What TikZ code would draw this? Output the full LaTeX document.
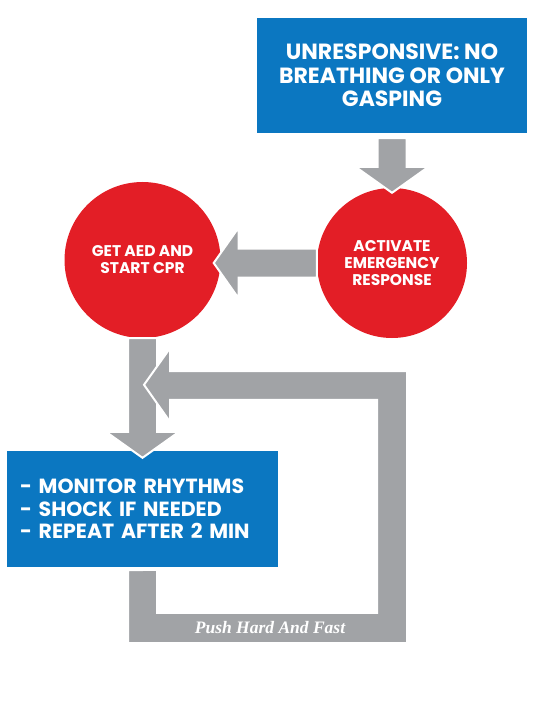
\documentclass[tikz,border=0pt]{standalone}
\usepackage{fontspec}
\setmainfont{Poppins}
\newfontfamily\mottofont{Liberation Serif}
\usetikzlibrary{calc}
\definecolor{cprblue}{RGB}{11,119,193}
\definecolor{cprred}{RGB}{227,30,38}
\definecolor{cprgray}{RGB}{161,163,166}
\tikzset{
  bluebox/.style={rectangle, fill=cprblue, text=white, inner sep=0pt, font=\bfseries\fontsize{20.5}{22.5}\selectfont},
  redcirc/.style={circle, fill=cprred, text=white, align=center, inner sep=0pt, font=\bfseries\fontsize{15.5}{17}\selectfont},
  fatarrow/.style={fill=cprgray, draw=white, line width=2pt, line join=miter}
}

\begin{document}
\begin{tikzpicture}[x=1pt, y=-1pt]
        \useasboundingbox (0,0) rectangle (550,711);
        % boxes and circles
        \node[bluebox, align=center, minimum width=270pt, minimum height=115pt, font=\bfseries\fontsize{22}{23.5}\selectfont] (unresp) at (392,75.5) {UNRESPONSIVE: NO\\BREATHING OR ONLY\\GASPING};
        \node[redcirc, minimum size=150pt] (activate) at (392,263) {ACTIVATE\\EMERGENCY\\RESPONSE};
        \node[bluebox, align=left, inner xsep=13pt, text width=245pt, minimum height=116pt] (monitor) at (142.5,509) {- MONITOR RHYTHMS\\- SHOCK IF NEEDED\\- REPEAT AFTER 2 MIN};
        \node[redcirc, minimum size=156pt] (aed) at (142.5,260) {GET AED AND\\START CPR};
        % arrow tips
        \coordinate (t1) at ($(activate.north)+(0,5)$);
        \coordinate (t2) at ($(aed.east |- activate.west)+(-7,0)$);
        \coordinate (t3) at ($(monitor.north)+(0,7)$);
        \coordinate (t4) at ($(monitor.north)+(1.5,-66)$);
        % arrows
        \filldraw[fatarrow] ($(unresp.south)+(14.5,5)$) |- ($(t1)+(36.5,-26)$) -- (t1) -- ++(-36.5,-26) -| ($(unresp.south)+(-14.5,5)$) -- cycle;
        \filldraw[fatarrow] ($(activate.west)+(0,-14.5)$) -| ($(t2)+(25,-35.5)$) -- (t2) -- ++(25,35.5) |- ($(activate.west)+(0,14.5)$) -- cycle;
        \filldraw[fatarrow] ($(aed.south)+(14.5,0)$) |- ($(t3)+(36.5,-26)$) -- (t3) -- ++(-36.5,-26) -| ($(aed.south)+(-14.5,0)$) -- cycle;
        \filldraw[fatarrow] ($(monitor.south)+(-14.5,3)$) -- ++(0,73) -- ++(279,0) -- ++(0,-272) -- ++(-237,0) -- ++(0,-23)
                -- (t4) -- ++(26,37) -- ++(0,-22) -- ++(207,0) -- ++(0,213) -- ++(-220,0) -- ++(0,-43) -- cycle;
        \node[text=white, font=\mottofont\bfseries\itshape\fontsize{17.5}{20}\selectfont] (motto) at (270,628) {Push Hard And Fast};
        \end{tikzpicture}
\end{document}
